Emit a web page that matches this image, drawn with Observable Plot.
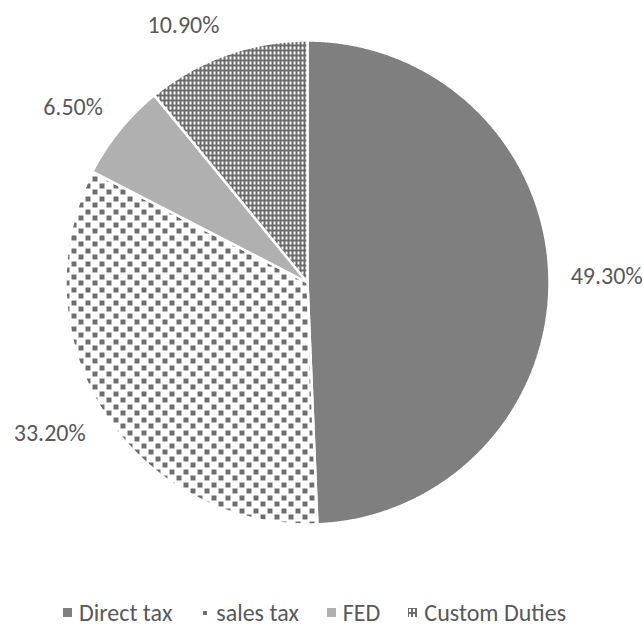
<!DOCTYPE html>
<html>
<head>
<meta charset="utf-8">
<script src="https://cdn.jsdelivr.net/npm/d3@7"></script>
<script src="https://cdn.jsdelivr.net/npm/@observablehq/plot@0.6"></script>
<style>
  html, body { margin: 0; padding: 0; background: #fff; }
  #chart { width: 644px; }
  .legend { display: flex; justify-content: center; align-items: center; height: 54px; padding-right: 15px;
    font-family: Carlito, Calibri, Lato, sans-serif; font-size: 24px; color: #595959; }
  .legend .item { display: flex; align-items: center; margin: 0 14px; }
  .legend svg { margin-right: 7px; }
</style>
</head>
<body>
<div id="chart"></div>
<script>
const categories = ["Direct tax", "sales tax", "FED", "Custom Duties"];
const values = [49.3, 33.2, 6.5, 10.9];
const labels = ["49.30%", "33.20%", "6.50%", "10.90%"];
const fills = ["#7f7f7f", "url(#pSales)", "#b0b0b0", "url(#pCustom)"];

const W = 644, H = 585, R = 242, cx = 307, cy = 282;

const arcs = d3.pie().sort(null).startAngle(0).endAngle(2 * Math.PI)(values);

const slices = arcs.map((a, i) => {
  const pts = [{x: 0, y: 0}];
  const n = Math.max(4, Math.ceil((a.endAngle - a.startAngle) / 0.005));
  for (let k = 0; k <= n; k++) {
    const t = a.startAngle + (a.endAngle - a.startAngle) * k / n;
    pts.push({x: Math.sin(t), y: Math.cos(t)});
  }
  return pts;
});

const clamp = v => Math.max(-1, Math.min(1, v));
const labelData = arcs.map((a, i) => {
  const m = (a.startAngle + a.endAngle) / 2;
  const s = Math.sin(m), c = Math.cos(m);
  const d = 1.09;
  const hw = labels[i].length * 5.9 / R, hh = 9 / R;
  return {
    x: d * s + clamp(s * 3) * hw,
    y: d * c + clamp(c * 3) * hh,
    label: labels[i]
  };
});

const marks = slices.map((pts, i) => Plot.line(pts, {
  x: "x", y: "y", curve: "linear-closed",
  fill: fills[i], stroke: "white", strokeWidth: 2.5, strokeLinejoin: "miter"
}));
marks.push(Plot.text(labelData, {
  x: "x", y: "y", text: "label", fill: "#595959", fontSize: 24,
  textAnchor: "middle", lineAnchor: "middle"
}));

const svg = Plot.plot({
  width: W, height: H, margin: 0,
  x: {domain: [-cx / R, (W - cx) / R], axis: null},
  y: {domain: [-(H - cy) / R, cy / R], axis: null},
  style: {fontFamily: "Carlito, Calibri, Lato, sans-serif", background: "white"},
  marks
});

svg.insertAdjacentHTML("afterbegin", `
<defs>
  <pattern id="pCustom" width="4" height="5" patternUnits="userSpaceOnUse">
    <rect width="4" height="5" fill="#6b6b6b"/>
    <rect x="1" y="1" width="2" height="3" fill="#ffffff"/>
  </pattern>
  <pattern id="pSales" width="14" height="13" patternUnits="userSpaceOnUse">
    <rect width="14" height="13" fill="#ffffff"/>
    <rect x="1" y="1" width="5" height="5" fill="#6e6e6e"/>
    <rect x="8" y="7" width="5" height="5" fill="#6e6e6e"/>
  </pattern>
  <pattern id="pSalesSmall" width="10" height="10" patternUnits="userSpaceOnUse">
    <rect width="10" height="10" fill="#ffffff"/>
    <rect x="3" y="3" width="4" height="4" fill="#6e6e6e"/>
  </pattern>
</defs>`);

document.getElementById("chart").appendChild(svg);

const legendFills = ["#7f7f7f", "url(#pSalesSmall)", "#b0b0b0", "url(#pCustom)"];
const legend = document.createElement("div");
legend.className = "legend";
categories.forEach((c, i) => {
  const item = document.createElement("div");
  item.className = "item";
  item.innerHTML = `<svg width="9" height="9"><rect width="9" height="9" fill="${legendFills[i]}"/></svg><span>${c}</span>`;
  legend.appendChild(item);
});
document.getElementById("chart").appendChild(legend);
</script>
</body>
</html>
